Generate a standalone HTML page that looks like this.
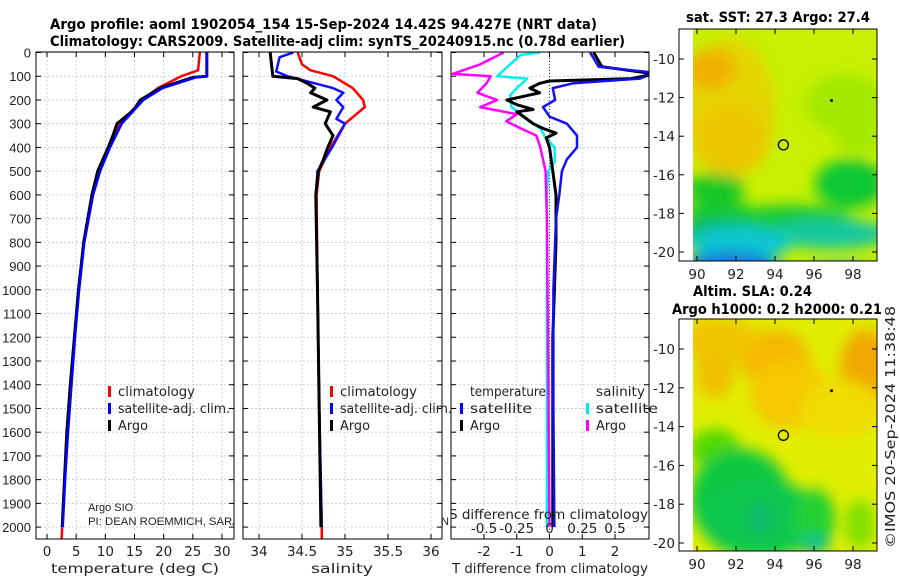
<!DOCTYPE html>
<html><head><meta charset="utf-8"><style>
body{margin:0;background:#fff}
svg{display:block;font-family:"Liberation Sans","DejaVu Sans",sans-serif}
.t{font-size:13px;fill:#222}
.d{font-family:"DejaVu Sans","Liberation Sans",sans-serif;font-size:13.5px;fill:#222}
.b{font-family:"DejaVu Sans","Liberation Sans",sans-serif;font-size:14px;font-weight:bold;fill:#000}
</style></head><body>
<svg id="chart" width="900" height="580" viewBox="0 0 900 580" xmlns="http://www.w3.org/2000/svg">
<defs>
<clipPath id="c1"><rect x="36" y="44" width="198" height="495"/></clipPath>
<clipPath id="c2"><rect x="243" y="44" width="199" height="495"/></clipPath>
<clipPath id="c3"><rect x="451" y="44" width="198" height="495"/></clipPath>
<clipPath id="cm1"><rect x="693" y="29" width="184" height="232"/></clipPath>
<clipPath id="cm2"><rect x="693" y="319" width="184" height="232"/></clipPath>
<filter id="bl" x="-50%" y="-50%" width="200%" height="200%"><feGaussianBlur stdDeviation="7"/></filter>
</defs>
<text class="b" x="50" y="29" textLength="547" lengthAdjust="spacingAndGlyphs">Argo profile: aoml 1902054_154 15-Sep-2024 14.42S 94.427E (NRT data)</text>
<text class="b" x="50" y="46" textLength="575" lengthAdjust="spacingAndGlyphs">Climatology: CARS2009. Satellite-adj clim: synTS_20240915.nc (0.78d earlier)</text>
<g id="grid"></g>
<g id="lines"></g>
<g id="axes"></g>
<g id="maps"></g>
</svg>
<script>
// ---- data ----
const depthTicks=[0,100,200,300,400,500,600,700,800,900,1000,1100,1200,1300,1400,1500,1600,1700,1800,1900,2000];
const tempTicks=[0,5,10,15,20,25,30];
const salTicks=[34,34.5,35,35.5,36];
const tdiffTicks=[-2,-1,0,1,2];
const sdiffTicks=[-0.5,-0.25,0,0.25,0.5];
const sdiffLabels=["-0.5","-0.25","0","0.25","0.5"];
// temperature
const tArgoD=[0,100,105,150,200,230,250,300,350,400,500,600,800,1000,1200,1400,1600,1800,2000];
const tArgoV=[27.4,27.4,25,19.4,16,15.2,14.5,12,11.3,10.5,8.7,7.7,6.3,5.4,4.7,4.0,3.4,3.0,2.6];
const tClimD=[0,75,100,150,200,300,400,500,600,800,1000,1200,1400,1600,1800,2000,2050];
const tClimV=[26.2,25.9,23,19,16.3,12.5,10.5,9,7.8,6.3,5.4,4.7,4.1,3.5,3.0,2.6,2.5];
const tSatD=[0,100,105,150,200,300,400,500,600,800,1000,1200,1400,1600,1800,2000];
const tSatV=[27.4,27.4,25.5,19.8,16.5,12.8,10.8,9.1,7.9,6.4,5.5,4.8,4.2,3.6,3.1,2.7];
// salinity
const sArgoD=[0,100,110,130,150,170,200,230,250,300,350,400,450,500,600,1000,1500,2000];
const sArgoV=[34.13,34.16,34.45,34.56,34.65,34.6,34.79,34.63,34.83,34.77,34.86,34.8,34.75,34.69,34.66,34.68,34.7,34.72];
const sClimD=[0,50,75,100,150,200,230,300,400,500,600,1000,1500,2000,2050];
const sClimV=[34.45,34.5,34.6,34.86,35.09,35.21,35.23,35.0,34.83,34.7,34.67,34.68,34.7,34.73,34.73];
const sSatD=[0,20,80,100,150,170,200,230,280,300,400,500,600,1000,1500,2000];
const sSatV=[34.4,34.24,34.2,34.33,34.86,34.98,34.9,34.98,34.9,35.0,34.85,34.68,34.66,34.68,34.7,34.73];
// differences
const dTSatD=[0,60,85,110,130,150,200,230,270,300,350,400,450,500,600,700,1000,1500,2000];
const dTSatV=[1.24,1.5,3.2,2.76,0.72,0.1,0.17,-0.2,0,0.53,0.84,0.84,0.53,0.38,0.3,0.2,0.12,0.12,0.15];
const dTArgoD=[0,60,90,110,120,130,150,170,200,220,240,250,280,300,320,340,360,400,500,600,800,1000,1200,2000];
const dTArgoV=[1.35,1.6,3.2,2.5,0,-0.3,-0.6,-0.3,-1.3,-1.0,-0.5,-1.0,-0.7,-0.5,-0.2,0.2,-0.1,0,0.1,0.2,0.2,0.15,0.1,0.1];
const dSSatD=[0,10,100,110,150,180,230,280,320,360,400,460,500,600,2000];
const dSSatV=[-0.07,-0.22,-0.4,-0.17,-0.25,-0.3,-0.29,-0.17,-0.07,-0.03,0.04,0.04,-0.01,-0.02,-0.02];
const dSArgoD=[0,50,90,100,130,170,200,230,260,290,320,350,400,500,700,2000];
const dSArgoV=[-0.35,-0.53,-0.74,-0.45,-0.48,-0.55,-0.4,-0.53,-0.25,-0.33,-0.22,-0.1,-0.07,-0.03,-0.02,0.0];
// maps
const lonTicks=[90,92,94,96,98];
const latTicks=[-10,-12,-14,-16,-18,-20];
const floatLon=94.43, floatLat=-14.45;
const markLon=96.9, markLat=-12.15;

// ---- scales ----
const NS="http://www.w3.org/2000/svg";
const yD=d=>52.5+d*0.2373;
const xT=v=>47+5.833*v;
const xS=v=>259+86*(v-34);
const xDT=v=>549.5+32.75*v;
const xDS=v=>549.5+131*v;
const lonX=v=>697+19.5*(v-90);
const latY1=v=>59+19.3*(-10-v);
const latY2=v=>349+19.4*(-10-v);
function mk(tag,attrs,parent){const e=document.createElementNS(NS,tag);for(const k in attrs)e.setAttribute(k,attrs[k]);parent.appendChild(e);return e;}
const G=document.getElementById('grid'),L=document.getElementById('lines'),A=document.getElementById('axes'),M=document.getElementById('maps');
const panels=[{x0:36,x1:234,ticks:tempTicks,sx:xT,lab:"temperature (deg C)",lx:135,lw:168,name:'temperature'},
 {x0:243,x1:442,ticks:salTicks,sx:xS,lab:"salinity",lx:342,lw:62,name:'salinity'},
 {x0:451,x1:649,ticks:tdiffTicks,sx:xDT,lab:"T difference from climatology",lx:550,lw:196,name:'difference'}];
panels.forEach((p,i)=>{
  const g=mk('g',{},G);
  
  
  depthTicks.forEach(d=>mk('line',{x1:p.x0,x2:p.x1,y1:yD(d),y2:yD(d),stroke:'#b8c4e0','stroke-width':0.8,'stroke-dasharray':'2,2'},g));
  p.ticks.forEach(t=>mk('line',{x1:p.sx(t),x2:p.sx(t),y1:52,y2:539,stroke:'#b8c4e0','stroke-width':0.8,'stroke-dasharray':'2,2'},g));
  const r=mk('rect',{x:p.x0,y:52,width:p.x1-p.x0,height:487,fill:'none',stroke:'#000','stroke-width':1},A);
  
  
  depthTicks.forEach(d=>{mk('line',{x1:p.x0,x2:p.x0+5,y1:yD(d),y2:yD(d),stroke:'#000'},A);mk('line',{x1:p.x1-5,x2:p.x1,y1:yD(d),y2:yD(d),stroke:'#000'},A);});
  p.ticks.forEach((t,j)=>{mk('line',{x1:p.sx(t),x2:p.sx(t),y1:534,y2:539,stroke:'#000'},A);mk('line',{x1:p.sx(t),x2:p.sx(t),y1:52,y2:57,stroke:'#000'},A);
    const tx=mk('text',{x:p.sx(t),y:556,'text-anchor':'middle',class:'d'},A);tx.textContent=String(t);
    
    });
  const xl=mk('text',{x:p.lx,y:573,'text-anchor':'middle',class:'d',textLength:p.lw,lengthAdjust:'spacingAndGlyphs'},A);xl.textContent=p.lab;
  
  
});
depthTicks.forEach(d=>{const t=mk('text',{x:31,y:yD(d)+5,'text-anchor':'end',class:'t'},A);t.textContent=String(d);
  
  });
mk('line',{x1:xDT(0),x2:xDT(0),y1:52,y2:539,stroke:'#445','stroke-width':1,'stroke-dasharray':'1,2'},G);
function line(D,V,sx,clip,col,w,name){
  const pts=D.map((d,i)=>sx(V[i]).toFixed(1)+','+yD(d).toFixed(1)).join(' ');
  const e=mk('polyline',{points:pts,fill:'none',stroke:col,'stroke-width':w,'stroke-linejoin':'round','clip-path':'url(#'+clip+')'},L);
  
  
}
line(tClimD,tClimV,xT,'c1','#f00',2.5,'temperature-climatology-line');
line(tArgoD,tArgoV,xT,'c1','#000',3,'temperature-argo-line');
line(tSatD,tSatV,xT,'c1','#00f',2.5,'temperature-satellite-line');
line(sClimD,sClimV,xS,'c2','#f00',2.5,'salinity-climatology-line');
line(sSatD,sSatV,xS,'c2','#1010ff',2.5,'salinity-satellite-line');
line(sArgoD,sArgoV,xS,'c2','#000',3,'salinity-argo-line');
line(dSSatD,dSSatV,xDS,'c3','#00f0f0',2.5,'s-diff-satellite-line');
line(dSArgoD,dSArgoV,xDS,'c3','#f0f',2.5,'s-diff-argo-line');
line(dTArgoD,dTArgoV,xDT,'c3','#000',3,'t-diff-argo-line');
line(dTSatD,dTSatV,xDT,'c3','#11e',2.5,'t-diff-satellite-line');
function leg(x,y,col,txt,w,name){
  const g=mk('g',{},A);
  
  
  mk('rect',{x:x,y:y-10,width:3,height:11,fill:col},g);
  const t=mk('text',{x:x+10,y:y,class:'d',textLength:w,lengthAdjust:'spacingAndGlyphs'},g);t.textContent=txt;
}
leg(108,396,'#f00','climatology',77,'legend-climatology-temp');
leg(108,413,'#00f','satellite-adj. clim.',112,'legend-satellite-temp');
leg(108,430,'#000','Argo',30,'legend-argo-temp');
leg(330,396,'#f00','climatology',77,'legend-climatology-sal');
leg(330,413,'#00f','satellite-adj. clim.',112,'legend-satellite-sal');
leg(330,430,'#000','Argo',30,'legend-argo-sal');
leg(460,413,'#00f','satellite',62,'legend-t-satellite');
leg(460,430,'#000','Argo',30,'legend-t-argo');
leg(586,413,'#00e8e8','satellite',62,'legend-s-satellite');
leg(586,430,'#f0f','Argo',30,'legend-s-argo');
const lt=mk('text',{x:470,y:396,class:'d',textLength:76,lengthAdjust:'spacingAndGlyphs'},A);lt.textContent='temperature';
const ls=mk('text',{x:596,y:396,class:'d',textLength:49,lengthAdjust:'spacingAndGlyphs'},A);ls.textContent='salinity';
const a1=mk('text',{x:88,y:511,class:'t'},A);a1.textContent='Argo SIO';a1.setAttribute('style','font-size:11px');
const a2=mk('text',{x:88,y:525,class:'t','clip-path':'url(#c1)',textLength:160,lengthAdjust:'spacingAndGlyphs'},A);a2.textContent='PI: DEAN ROEMMICH, SARAH';a2.setAttribute('style','font-size:11px');
const a3=mk('text',{x:441,y:525,class:'t'},A);a3.textContent='N';a3.setAttribute('style','font-size:11px');
const sd=mk('text',{x:449,y:519,class:'d','clip-path':'url(#c3)',textLength:199,lengthAdjust:'spacingAndGlyphs'},A);sd.textContent='S difference from climatology';


sdiffTicks.forEach((v,i)=>{const t=mk('text',{x:xDS(v),y:533,'text-anchor':'middle',class:'d'},A);t.textContent=sdiffLabels[i];
  
  });
function map(y0,latY,clip,blobs,base,title){
  const g=mk('g',{},M);
  
  
  mk('rect',{x:693,y:y0,width:184,height:232,fill:base},g);
  const bg=mk('g',{'clip-path':'url(#'+clip+')'},g);
  const bf=mk('g',{filter:'url(#bl)'},bg);
  blobs.forEach(b=>mk('ellipse',{cx:b[0],cy:y0+b[1],rx:b[2],ry:b[3],fill:b[4]},bf));
  mk('rect',{x:679,y:y0,width:198,height:232,fill:'none',stroke:'#000'},g);
  lonTicks.forEach(v=>{mk('line',{x1:lonX(v),x2:lonX(v),y1:y0+232,y2:y0+227,stroke:'#000'},g);mk('line',{x1:lonX(v),x2:lonX(v),y1:y0,y2:y0+5,stroke:'#000'},g);
    const t=mk('text',{x:lonX(v),y:y0+250,'text-anchor':'middle',class:'d'},g);t.textContent=String(v);});
  latTicks.forEach(v=>{mk('line',{x1:679,x2:684,y1:latY(v),y2:latY(v),stroke:'#000'},g);mk('line',{x1:872,x2:877,y1:latY(v),y2:latY(v),stroke:'#000'},g);
    const t=mk('text',{x:675,y:latY(v)+5,'text-anchor':'end',class:'d'},g);t.textContent=String(v);});
  const c=mk('circle',{cx:lonX(floatLon),cy:latY(floatLat),r:5,fill:'none',stroke:'#000','stroke-width':1.3},g);
  
  
  mk('circle',{cx:lonX(markLon),cy:latY(markLat),r:1.5,fill:'#000'},g);
}
map(29,latY1,'cm1',[
 [730,80,45,70,'#e4d400'],[710,40,25,20,'#f0b000'],[730,110,40,35,'#ecc800'],
 [845,75,40,30,'#a4e800'],[860,110,25,15,'#a4e800'],
 [715,160,30,15,'#14c828'],[850,155,35,25,'#10c830'],[790,190,60,14,'#12c830'],[720,185,35,14,'#12c830'],
 [720,205,40,15,'#10b870'],[830,205,60,15,'#18c8a0'],[740,215,50,18,'#10c8d0'],
 [730,242,50,20,'#1878e0'],[770,252,40,12,'#1050d0'],[840,247,40,12,'#20a8e8']
],'#c8f000','sst-map');
map(319,latY2,'cm2',[
 [775,40,35,30,'#f5b800'],[865,50,25,40,'#f0a800'],[715,50,20,30,'#f0c000'],[720,20,40,20,'#f0c400'],
 [790,75,40,35,'#f6c800'],[840,90,40,30,'#f0dc00'],
 [715,130,25,20,'#50d800'],[740,180,50,50,'#10c840'],[760,200,60,40,'#10c850'],[815,200,20,30,'#20d030'],
 [760,200,12,15,'#10b870'],[815,225,15,10,'#10c090'],[860,205,15,25,'#80e000']
],'#e0ee00','sla-map');
const m1=mk('text',{x:686,y:22,class:'b',textLength:184,lengthAdjust:'spacingAndGlyphs'},M);m1.textContent='sat. SST: 27.3 Argo: 27.4';
const m2=mk('text',{x:693,y:296,class:'b',textLength:119,lengthAdjust:'spacingAndGlyphs'},M);m2.textContent='Altim. SLA: 0.24';
const m3=mk('text',{x:672,y:314,class:'b',textLength:210,lengthAdjust:'spacingAndGlyphs'},M);m3.textContent='Argo h1000: 0.2 h2000: 0.21';
const cp=mk('text',{x:0,y:0,'text-anchor':'middle',class:'d',transform:'translate(895,427) rotate(-90)',textLength:242,lengthAdjust:'spacingAndGlyphs'},M);cp.textContent='©IMOS 20-Sep-2024 11:38:48';
</script>
</body></html>
